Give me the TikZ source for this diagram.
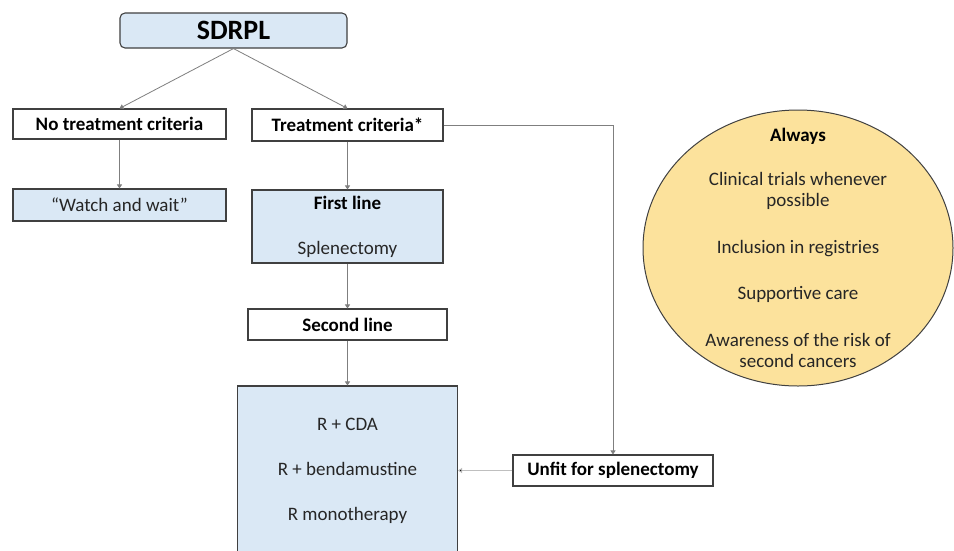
\documentclass[tikz,border=0pt]{standalone}
\usepackage{fontspec}
\setmainfont{Carlito}
\usetikzlibrary{arrows.meta,shapes.geometric}

\definecolor{boxblue}{HTML}{DAE8F5}
\definecolor{edgegray}{HTML}{404040}
\definecolor{linkgray}{HTML}{7F7F7F}
\definecolor{softgray}{HTML}{BFBFBF}
\definecolor{gold}{HTML}{FCE29C}
\definecolor{inkgray}{HTML}{262626}

\tikzset{
  base/.style={draw=edgegray, line width=1.1pt, inner sep=0pt, align=center,
    font=\fontsize{19}{23}\selectfont, text=inkgray},
  plainbox/.style={base, fill=white, font=\fontsize{19}{23}\selectfont\bfseries, text=black},
  bluebox/.style={base, fill=boxblue},
  link/.style={draw=linkgray, line width=0.8pt,
    -{Triangle[width=5pt,length=4pt]}},
  softlink/.style={link, draw=softgray, -{Triangle[width=5pt,length=4pt,fill=black]}},
}

\begin{document}
\begin{tikzpicture}[x=1pt,y=-1pt]
  \useasboundingbox[fill=white] (0,0) rectangle (954,550);

  % root
  \node[bluebox, rounded corners=5pt, minimum width=227pt, minimum height=35pt,
        font=\fontsize{28}{32}\selectfont\bfseries, text=black] (sdrpl) at (233.5,30.5) {SDRPL};

  % branch headers
  \node[plainbox, minimum width=213pt, minimum height=30pt] (notreat) at (119.5,124) {No treatment criteria};
  \node[plainbox, minimum width=191pt, minimum height=32pt] (treat) at (347.5,125) {Treatment criteria*};

  % untreated branch
  \node[bluebox, minimum width=213pt, minimum height=32pt] (watch) at (119.5,205) {``Watch and wait''};

  % treated branch
  \node[bluebox, minimum width=191pt, minimum height=73pt] (first) at (347.5,226.5)
    {\textbf{\color{black}First line}\\[22pt]Splenectomy};
  \node[plainbox, minimum width=199pt, minimum height=31pt] (second) at (347.5,324.5) {Second line};
  \node[bluebox, minimum width=220pt, minimum height=170pt] (therapy) at (347.5,471)
    {R + CDA\\[22pt]R + bendamustine\\[22pt]R monotherapy};
  \node[plainbox, minimum width=200pt, minimum height=31pt] (unfit) at (613,470.5) {Unfit for splenectomy};

  % standing recommendations: fixed-size ellipse with its text laid on top
  \node[ellipse, draw=edgegray, line width=1pt, fill=gold, minimum width=310pt,
        minimum height=276pt, inner sep=0pt] (always) at (798,248) {};
  \node[align=center, inner sep=0pt, font=\fontsize{19}{21.5}\selectfont, text=inkgray]
    (alwaystext) at (always.center)
    {\textbf{\color{black}Always}\\[22pt]
     Clinical trials whenever\\possible\\[25pt]
     Inclusion in registries\\[25pt]
     Supportive care\\[25pt]
     Awareness of the risk of\\second cancers};

  % connectors
  \draw[link] (sdrpl.south) -- (notreat.north);
  \draw[link] (sdrpl.south) -- (treat.north);
  \draw[link] (notreat.south) -- (watch.north);
  \draw[link] (treat.south) -- (first.north);
  \draw[link] (first.south) -- (second.north);
  \draw[link] (second.south) -- (therapy.north);
  \draw[link] (treat.east) -- (unfit.north |- treat.east) -- (unfit.north);
  \draw[softlink] (unfit.west) -- (unfit.west -| therapy.east);
\end{tikzpicture}
\end{document}
